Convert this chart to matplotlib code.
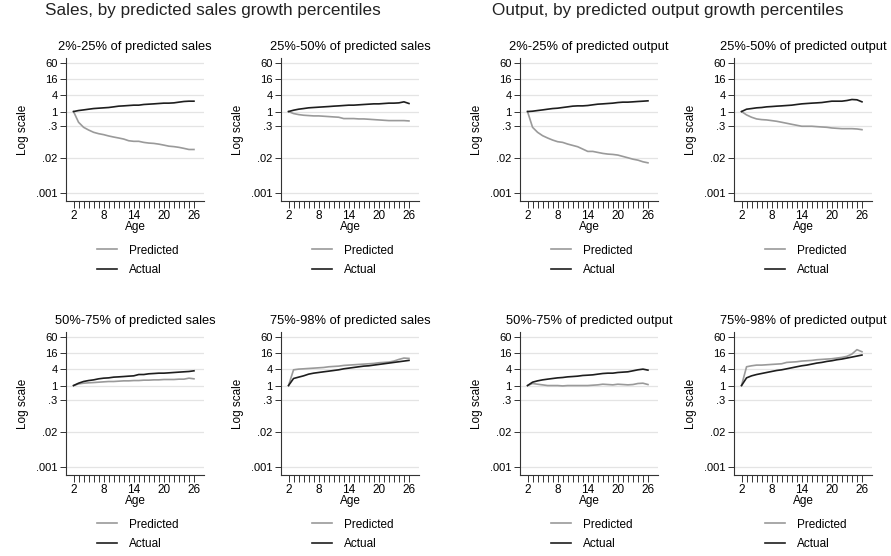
import matplotlib
matplotlib.use("Agg")
import matplotlib.pyplot as plt
from matplotlib.lines import Line2D

plt.rcParams['font.family'] = ['Liberation Sans', 'DejaVu Sans']

# ages on the x axis
ages = list(range(2, 27))

# sales, by predicted sales growth percentiles
sales_2_25_pred = [1, 0.403, 0.263, 0.209, 0.172, 0.153, 0.141, 0.126, 0.115, 0.106, 0.097, 0.084, 0.080,
                   0.080, 0.073, 0.069, 0.067, 0.063, 0.058, 0.053, 0.051, 0.048, 0.044, 0.040, 0.040]
sales_2_25_act = [1, 1.09, 1.15, 1.22, 1.29, 1.33, 1.37, 1.41, 1.49, 1.58, 1.62, 1.67, 1.72,
                  1.72, 1.82, 1.87, 1.92, 1.98, 2.04, 2.04, 2.09, 2.22, 2.35, 2.41, 2.41]
sales_25_50_pred = [1, 0.843, 0.774, 0.732, 0.711, 0.691, 0.691, 0.672, 0.653, 0.634, 0.617, 0.551, 0.551,
                    0.551, 0.535, 0.535, 0.520, 0.505, 0.491, 0.477, 0.464, 0.464, 0.464, 0.464, 0.451]
sales_25_50_act = [1, 1.12, 1.22, 1.29, 1.37, 1.41, 1.45, 1.49, 1.53, 1.58, 1.62, 1.67, 1.72,
                   1.72, 1.77, 1.82, 1.87, 1.92, 1.92, 1.98, 2.04, 2.04, 2.09, 2.28, 1.98]
sales_50_75_pred = [1, 1.15, 1.22, 1.26, 1.29, 1.33, 1.37, 1.41, 1.41, 1.45, 1.49, 1.49, 1.53,
                    1.53, 1.58, 1.58, 1.62, 1.62, 1.67, 1.67, 1.67, 1.72, 1.72, 1.87, 1.77]
sales_50_75_act = [1, 1.22, 1.41, 1.53, 1.62, 1.77, 1.87, 1.92, 2.04, 2.09, 2.15, 2.22, 2.28,
                   2.55, 2.55, 2.71, 2.78, 2.86, 2.86, 2.94, 3.03, 3.12, 3.21, 3.30, 3.49]
sales_75_98_pred = [1, 3.80, 4.03, 4.14, 4.26, 4.38, 4.51, 4.64, 4.92, 5.06, 5.20, 5.51, 5.67,
                    5.83, 6.00, 6.17, 6.35, 6.53, 6.92, 7.12, 7.33, 7.98, 9.19, 10.3, 10.0]
sales_75_98_act = [1, 1.82, 2.04, 2.28, 2.63, 2.86, 3.03, 3.21, 3.39, 3.59, 3.80, 4.14, 4.38,
                   4.64, 4.92, 5.20, 5.35, 5.67, 6.00, 6.35, 6.72, 7.12, 7.54, 7.98, 8.45]

# output, by predicted output growth percentiles
output_2_25_pred = [1, 0.263, 0.172, 0.129, 0.106, 0.089, 0.0775, 0.0731, 0.0634, 0.0566, 0.0505, 0.0415, 0.0340,
                    0.0340, 0.0312, 0.0287, 0.0271, 0.0263, 0.0249, 0.0222, 0.0198, 0.0176, 0.0162, 0.0141, 0.0129]
output_2_25_act = [1, 1.03, 1.09, 1.15, 1.22, 1.29, 1.33, 1.41, 1.49, 1.58, 1.62, 1.62, 1.67,
                   1.77, 1.87, 1.92, 1.98, 2.04, 2.15, 2.22, 2.22, 2.28, 2.35, 2.41, 2.48]
output_25_50_pred = [1, 0.752, 0.617, 0.535, 0.505, 0.491, 0.464, 0.438, 0.403, 0.370, 0.339, 0.312, 0.287,
                     0.287, 0.287, 0.278, 0.270, 0.263, 0.248, 0.241, 0.234, 0.234, 0.234, 0.228, 0.215]
output_25_50_act = [1, 1.22, 1.29, 1.37, 1.41, 1.49, 1.53, 1.58, 1.62, 1.67, 1.72, 1.82, 1.92,
                    1.98, 2.04, 2.09, 2.15, 2.28, 2.41, 2.41, 2.41, 2.55, 2.78, 2.71, 2.28]
output_50_75_pred = [1, 1.19, 1.12, 1.06, 1, 1, 1, 0.97, 1, 1, 1, 1, 1,
                     1.03, 1.06, 1.12, 1.09, 1.06, 1.12, 1.09, 1.06, 1.09, 1.19, 1.22, 1.09]
output_50_75_act = [1, 1.33, 1.49, 1.62, 1.72, 1.82, 1.92, 1.98, 2.09, 2.15, 2.22, 2.35, 2.41,
                    2.48, 2.63, 2.78, 2.86, 2.86, 3.03, 3.12, 3.21, 3.49, 3.80, 4.03, 3.70]
output_75_98_pred = [1, 4.92, 5.35, 5.67, 5.67, 5.83, 6.00, 6.17, 6.35, 7.12, 7.33, 7.54, 7.98,
                     8.21, 8.45, 8.93, 9.19, 9.46, 9.73, 10.3, 10.9, 11.9, 14.5, 21.0, 17.6]
output_75_98_act = [1, 1.92, 2.28, 2.55, 2.78, 3.03, 3.30, 3.59, 3.80, 4.14, 4.51, 4.92, 5.35,
                    5.67, 6.17, 6.72, 7.12, 7.75, 8.21, 8.93, 9.46, 10.3, 11.2, 12.2, 13.3]

y_ticks = [0.001, 0.02, 0.3, 1, 4, 16, 60]
y_labels = ['.001', '.02', '.3', '1', '4', '16', '60']
x_ticks = [2, 8, 14, 20, 26]

W, H = 891, 556
fig = plt.figure(figsize=(W / 100, H / 100), dpi=100)

PRED_COLOR = '#9a9a9a'
ACT_COLOR = '#1e1e1e'


def px_axes(left, top, width, height):
    return fig.add_axes([left / W, 1 - (top + height) / H, width / W, height / H])


def panel(left, top, title, pred, act):
    ax = px_axes(left, top, 138, 143)
    ax.plot(ages, pred, color=PRED_COLOR, lw=1.2)
    ax.plot(ages, act, color=ACT_COLOR, lw=1.2)
    ax.set_yscale('log')
    ax.set_ylim(5.06e-4, 94)
    ax.set_xlim(0.5, 28)
    ax.set_yticks(y_ticks)
    ax.set_yticklabels(y_labels)
    ax.minorticks_off()
    ax.set_xticks(x_ticks)
    ax.set_xticks(ages, minor=True)
    ax.yaxis.grid(True, color='#e4e4e4', lw=0.9)
    ax.set_axisbelow(True)
    for s in ['top', 'right']:
        ax.spines[s].set_visible(False)
    for s in ['left', 'bottom']:
        ax.spines[s].set_color('#333333')
        ax.spines[s].set_linewidth(0.8)
    ax.tick_params(axis='y', length=4, width=0.7, color='#333333', labelsize=8, pad=2)
    ax.tick_params(axis='x', which='both', length=5, width=0.7, color='#333333', labelsize=8.5, pad=1.5)
    ax.set_xlabel('Age', fontsize=8.5, labelpad=-1)
    ax.set_ylabel('Log scale', fontsize=8.5, labelpad=5)
    ax.set_title(title, fontsize=9.3, pad=6)
    handles = [Line2D([], [], color=PRED_COLOR, lw=1.2), Line2D([], [], color=ACT_COLOR, lw=1.2)]
    ax.legend(handles, ['Predicted', 'Actual'], loc='upper left', bbox_to_anchor=(0.225, -0.305),
              frameon=False, fontsize=8.5, handlelength=1.7, handletextpad=1.0,
              labelspacing=0.6, borderpad=0, borderaxespad=0)
    return ax


panel(66, 58, '2%-25% of predicted sales', sales_2_25_pred, sales_2_25_act)
panel(281, 58, '25%-50% of predicted sales', sales_25_50_pred, sales_25_50_act)
panel(66, 332, '50%-75% of predicted sales', sales_50_75_pred, sales_50_75_act)
panel(281, 332, '75%-98% of predicted sales', sales_75_98_pred, sales_75_98_act)

panel(520, 58, '2%-25% of predicted output', output_2_25_pred, output_2_25_act)
panel(734, 58, '25%-50% of predicted output', output_25_50_pred, output_25_50_act)
panel(520, 332, '50%-75% of predicted output', output_50_75_pred, output_50_75_act)
panel(734, 332, '75%-98% of predicted output', output_75_98_pred, output_75_98_act)

fig.text(213 / W, 1 - 11 / H, 'Sales, by predicted sales growth percentiles',
         fontsize=12.3, ha='center', va='center', color='#222222')
fig.text(668 / W, 1 - 11 / H, 'Output, by predicted output growth percentiles',
         fontsize=12.3, ha='center', va='center', color='#222222')

fig.savefig('out.png', dpi=100)
